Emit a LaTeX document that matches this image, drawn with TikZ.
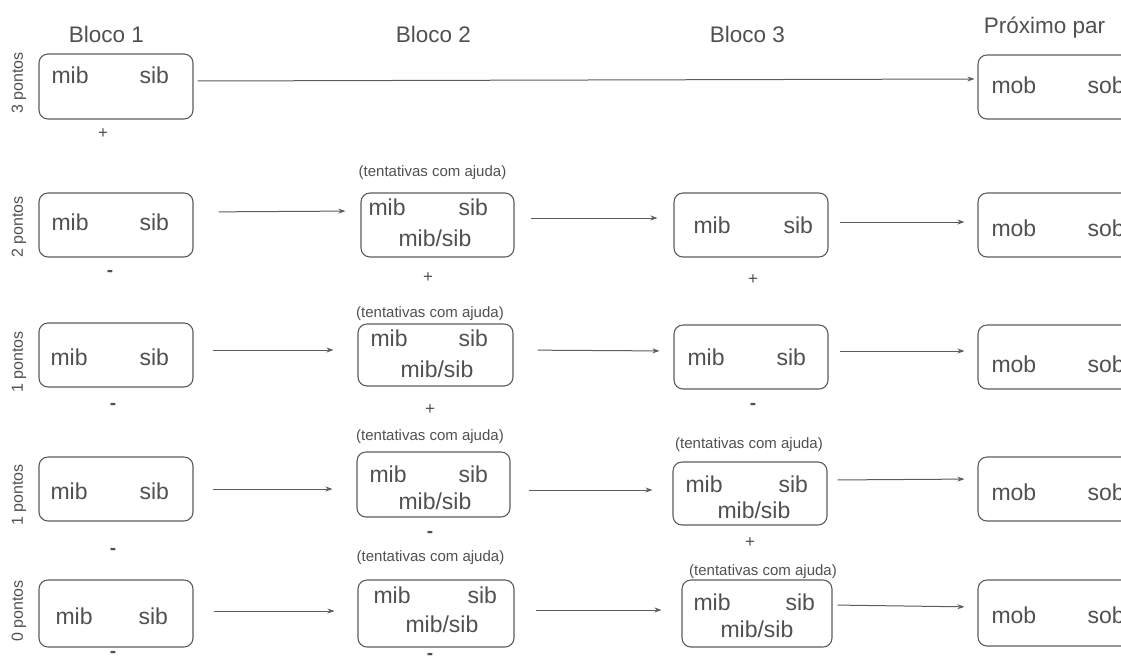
\documentclass[tikz,border=0pt]{standalone}
\usepackage{fontspec}
\setmainfont{Liberation Sans}
\usetikzlibrary{arrows.meta}
\definecolor{texto}{HTML}{505050}
\definecolor{linha}{HTML}{5C5C5C}

\begin{document}
\begin{tikzpicture}[x=1pt,y=-1pt,line width=1pt,>={Stealth[length=7pt,width=5pt]},
  caixa/.style={draw=linha,line width=1.1pt,rounded corners=9pt,inner sep=0pt},
  pal/.style={text=texto,font=\fontsize{23}{27}\selectfont,inner sep=0pt,anchor=base west},
  nota/.style={text=texto,font=\fontsize{15}{18}\selectfont,inner sep=0pt},
  titulo/.style={text=texto,font=\fontsize{22.5}{27}\selectfont,inner sep=0pt,anchor=base},
  lado/.style={text=texto,font=\fontsize{16}{19}\selectfont,inner sep=0pt,rotate=90},
  sinal/.style={text=texto,font=\fontsize{17}{20}\selectfont,inner sep=0pt},
  menos/.style={text=texto,font=\fontsize{19}{20}\bfseries,inner sep=0pt}]
\useasboundingbox (0,0) rectangle (1121,657);
\clip (0,0) rectangle (1121,657);
% títulos das colunas
\node[titulo] (t1) at (106.5,42) {Bloco 1};
\node[titulo] (t2) at (433.5,42) {Bloco 2};
\node[titulo] (t3) at (747.5,42) {Bloco 3};
\node[titulo] (t4) at (1044.5,33) {Próximo par};
% pontos (à esquerda)
\foreach \n/\y/\s in {p1/83/3,p2/227/2,p3/362/1,p4/495/1,p5/611/0}
  \node[lado] (\n) at (19,\y) {\s\ pontos};
% caixas
\foreach \n/\x/\y/\w/\h in {b11/116/86.5/154/65,b14/1059/87/162/64,
  b21/116/225/154/64,b22/437.5/225/153/64,b23/751/225/154/64,b24/1059/225/162/64,
  b31/116/355/154/64,b32/435.5/355/155/62,b33/751/357/154/64,b34/1059/357/162/64,
  b41/116/489/154/64,b42/433.5/484.5/153/65,b43/750/493.5/154/63,b44/1059/489/162/64,
  b51/116/613.5/154/67,b52/436/613.5/156/67,b53/757/613.5/150/67,b54/1059/613/162/66}
  \node[caixa,minimum width=\w pt,minimum height=\h pt] (\n) at (\x,\y) {};
% textos nas caixas
\foreach \n/\x/\y in {m11/51/83,m21/51/230,m22/368/215,m23/693/233,
  m31/50/365,m32/370/346,m33/687/365,m41/50/499,m42/369/482,m43/685/492,
  m51/55/624,m52/373/603,m53/693/610}
  \node[pal] (\n) at (\x,\y) {mib};
\foreach \n/\x/\y in {s11/139/83,s21/139/230,s22/458/215,s23/783/233,
  s31/139/365,s32/458/346,s33/776/365,s41/139/499,s42/458/482,s43/778/492,
  s51/138/624,s52/467/603,s53/785/610}
  \node[pal] (\n) at (\x,\y) {sib};
\foreach \n/\x/\y in {x22/398/246,x32/400/377,x42/398/509,x43/717/518,
  x52/405/632,x53/720/637}
  \node[pal] (\n) at (\x,\y) {mib/sib};
\foreach \n/\y in {o14/93,o24/236,o34/372,o44/500,o54/623}{
  \node[pal] (\n) at (991,\y) {mob};
  \node[pal] (\n b) at (1087,\y) {sob};}
% tentativas com ajuda
\foreach \n/\x/\y in {a22/432.5/173,a32/430/314,a42/430/437,a43/749/445,
  a52/430.5/558,a53/763/572}
  \node[nota] (\n) at (\x,\y) {(tentativas com ajuda)};
% sinais + e -
\foreach \n/\x/\y in {g11/103/134,g22/428/278,g23/753/280,g32/430/410,g43/750/543}
  \node[sinal] (\n) at (\x,\y) {+};
\foreach \n/\x/\y in {g21/110/273,g31/113/406,g33/753/406,g41/113/551,g42/430/534,
  g51/113/654,g52/430/656}
  \node[menos] (\n) at (\x,\y) {-};
% setas
\foreach \a/\b/\ya/\yb/\s/\e in {b11/b14/81/79/4/3,
  b21/b22/212/211/25/15,b22/b23/218/218/16/16,b23/b24/222/222/11/13,
  b31/b32/350/350/19/24,b32/b33/350/351/24/14,b33/b34/351/351/11/13,
  b41/b42/489/489/19/24,b42/b43/490/490/18/20,b43/b44/480/479/10/13,
  b51/b52/611/611/20/23,b52/b53/610/610/21/20,b53/b54/605/607/5/13}
  \draw[->,draw=linha,shorten <=\s pt,shorten >=\e pt] (\a.east |- 0,\ya) -- (\b.west |- 0,\yb);
\end{tikzpicture}
\end{document}
